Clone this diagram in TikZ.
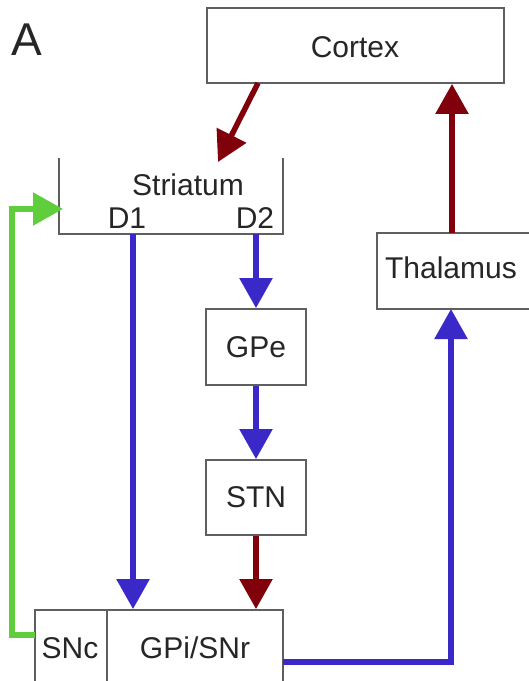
\documentclass[tikz,border=0pt]{standalone}
\usepackage{fontspec}
\setmainfont{Liberation Sans}
\usetikzlibrary{arrows.meta,calc}
\definecolor{pathred}{RGB}{128,0,12}
\definecolor{pathblue}{RGB}{58,40,200}
\definecolor{pathgreen}{RGB}{96,205,60}
\definecolor{boxline}{RGB}{95,95,95}
\begin{document}
\begin{tikzpicture}[x=1pt,y=-1pt,
  box/.style={draw=boxline,line width=1.8pt,inner sep=0pt,fill=white},
  lbl/.style={font=\fontsize{30}{36}\selectfont,inner sep=0pt,text=black!85},
  conn/.style={line width=5.5pt,-{Triangle[width=32pt,length=30pt]}}]
\clip (0,0) rectangle (529,681);
\fill[white] (0,0) rectangle (529,681);

\node[lbl,font=\fontsize{46}{50}\selectfont] (A) at (27,40) {A};

% boxes
\node[box,minimum width=297pt,minimum height=75pt] (cortex) at (355.5,45.5) {};
\node[lbl] (cortexlab) at (355,47) {Cortex};

\node[inner sep=0pt,minimum width=224pt,minimum height=76pt] (str) at (171,196) {};
\draw[boxline,line width=1.8pt] (str.north west) -- (str.south west) -- (str.south east) -- (str.north east);
\node[lbl] (strlab) at (188,185) {Striatum};
\node[lbl] (d1) at (127,218) {D1};
\node[lbl] (d2) at (255,218) {D2};

\node[box,minimum width=183pt,minimum height=76pt] (thal) at (468.5,271) {};
\node[lbl] (thallab) at (451,268) {Thalamus};

\node[box,minimum width=100pt,minimum height=76pt] (gpe) at (256,347) {};
\node[lbl] (gpelab) at (256,347) {GPe};

\node[box,minimum width=100pt,minimum height=75pt] (stn) at (256,497.5) {};
\node[lbl] (stnlab) at (256,497.5) {STN};

\node[box,minimum width=72pt,minimum height=100pt] (snc) at (71,660) {};
\node[lbl] (snclab) at (70,648) {SNc};
\node[box,minimum width=176pt,minimum height=100pt] (gpi) at (195,660) {};
\node[lbl] (gpilab) at (195,648) {GPi/SNr};

% connector end points
\coordinate (ctxout) at (258,83);
\coordinate (strin) at (218,162);
\coordinate (d1out) at (133,234);
\coordinate (d2out) at (256,234);
\coordinate (gpiout) at (283,662);
\coordinate (thalin) at (451,309);
\coordinate (thalout) at (452,233);
\coordinate (sncout) at (35,635);
\coordinate (gl) at (12,635);
\coordinate (gt) at (12,209);
\coordinate (strgreen) at (63,209);

% connectors
\draw[conn,pathred] (ctxout) -- (strin);
\draw[conn,pathblue] (d1out) -- (d1out |- gpi.north);
\draw[conn,pathblue] (d2out) -- (gpe.north);
\draw[conn,pathblue] (gpe.south) -- (stn.north);
\draw[conn,pathred] (stn.south) -- (stn.south |- gpi.north);
\draw[conn,pathblue] (gpiout) -| (thalin);
\draw[conn,pathred] (thalout) -- (thalout |- cortex.south);
\draw[conn,pathgreen] (sncout) -- (gl) -- (gt) -- (strgreen);
\end{tikzpicture}
\end{document}
